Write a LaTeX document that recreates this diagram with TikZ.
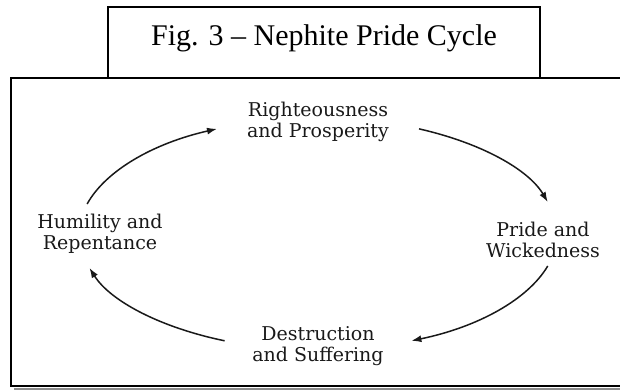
\documentclass[tikz,border=0pt]{standalone}
\usepackage{fontspec}
\setmainfont{Liberation Serif}
\newfontfamily\stagefont{DejaVu Serif}
\usetikzlibrary{arrows.meta, calc}

\begin{document}
\begin{tikzpicture}[x=1pt, y=1pt,
    stage/.style={align=center, text=black!90,
      font=\stagefont\fontsize{19}{21.5}\selectfont},
    cyclearrow/.style={-{Latex[length=10pt, width=7pt]}, line width=1.5pt, black!90}]
      \useasboundingbox (0,0) rectangle (620,391);

      % frame and title
      \draw[black!45, line width=2pt] (14,2.5) -- (620,2.5);
      \draw[line width=1.4pt] (620,313) -- (11,313) -- (11,5) -- (620,5);
      \draw[line width=1.4pt] (108,313) rectangle (540,384);
      \node[font=\fontsize{30}{34}\selectfont] (title) at (324,353) {Fig. 3 -- Nephite Pride Cycle};

      % the four stages
      \coordinate (centre) at (318,157);
      \node[stage] (rig) at (318,269) {Righteousness\\and Prosperity};
      \node[stage] (pri) at (543,151) {Pride and\\Wickedness};
      \node[stage] (des) at (318,45) {Destruction\\and Suffering};
      \node[stage] (hum) at (100,157) {Humility and\\Repentance};

      \coordinate (c1) at ($(centre)+(165:239pt and 116pt)$);
      \coordinate (c2) at ($(centre)+(65:239pt and 116pt)$);
      \coordinate (c3) at ($(centre)+(-16:239pt and 116pt)$);
      \coordinate (c4) at ($(centre)+(-113:239pt and 116pt)$);

      \draw[cyclearrow] (c1) arc[start angle=165, end angle=115, x radius=239pt, y radius=116pt];
      \draw[cyclearrow] (c2) arc[start angle=65, end angle=16, x radius=239pt, y radius=116pt];
      \draw[cyclearrow] (c3) arc[start angle=-16, end angle=-67, x radius=239pt, y radius=116pt];
      \draw[cyclearrow] (c4) arc[start angle=-113, end angle=-163, x radius=239pt, y radius=116pt];
    \end{tikzpicture}
\end{document}
